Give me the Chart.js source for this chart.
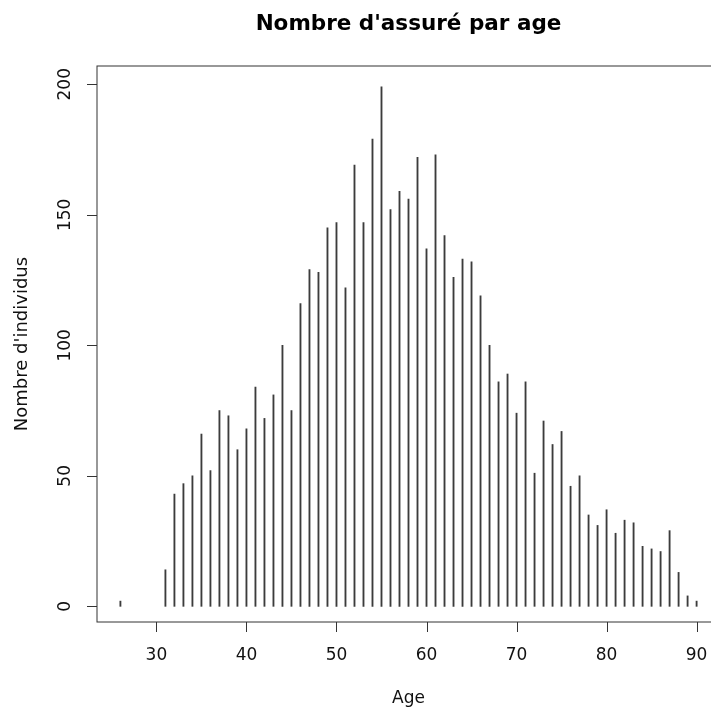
<!DOCTYPE html>
<html>
<head>
<meta charset="utf-8">
<script src="https://cdn.jsdelivr.net/npm/chart.js@4/dist/chart.umd.min.js"></script>
<style>
  html, body { margin: 0; padding: 0; background: #fff; overflow: hidden; }
  #wrap { width: 722px; height: 713px; }
</style>
</head>
<body>
<div id="wrap"><canvas id="ages-chart" width="722" height="713"></canvas></div>
<script>
// Nombre d'assurés par âge
const ages = [26,
  31, 32, 33, 34, 35, 36, 37, 38, 39, 40,
  41, 42, 43, 44, 45, 46, 47, 48, 49, 50,
  51, 52, 53, 54, 55, 56, 57, 58, 59, 60,
  61, 62, 63, 64, 65, 66, 67, 68, 69, 70,
  71, 72, 73, 74, 75, 76, 77, 78, 79, 80,
  81, 82, 83, 84, 85, 86, 87, 88, 89, 90];
const counts = [2,
  14, 43, 47, 50, 66, 52, 75, 73, 60, 68,
  84, 72, 81, 100, 75, 116, 129, 128, 145, 147,
  122, 169, 147, 179, 199, 152, 159, 156, 172, 137,
  173, 142, 126, 133, 132, 119, 100, 86, 89, 74,
  86, 51, 71, 62, 67, 46, 50, 35, 31, 37,
  28, 33, 32, 23, 22, 21, 29, 13, 4, 2];
const xTicks = [30, 40, 50, 60, 70, 80, 90];
const yTicks = [0, 50, 100, 150, 200];

const TITLE = "Nombre d'assuré par age";
const X_LABEL = 'Age';
const Y_LABEL = "Nombre d'individus";
const FONT = 'DejaVu Sans';

// R-style box, ticks and labels drawn from the chart's own scales
const rAxes = {
  id: 'rAxes',
  afterDraw(chart) {
    const { ctx, chartArea: a, scales } = chart;
    const x = scales.x, y = scales.y;
    ctx.save();
    ctx.strokeStyle = '#333';
    ctx.lineWidth = 1;
    ctx.strokeRect(a.left, a.top, a.right - a.left, a.bottom - a.top);

    ctx.fillStyle = '#111';
    ctx.font = `17px ${FONT}`;
    ctx.textAlign = 'center';
    ctx.textBaseline = 'middle';
    ctx.beginPath();
    xTicks.forEach(v => {
      const px = Math.round(x.getPixelForValue(v)) + 0.5;
      ctx.moveTo(px, a.bottom);
      ctx.lineTo(px, a.bottom + 10);
    });
    yTicks.forEach(v => {
      const py = Math.round(y.getPixelForValue(v)) + 0.5;
      ctx.moveTo(a.left, py);
      ctx.lineTo(a.left - 10, py);
    });
    ctx.stroke();

    xTicks.forEach(v => ctx.fillText(String(v), x.getPixelForValue(v), a.bottom + 34));
    yTicks.forEach(v => {
      ctx.save();
      ctx.translate(a.left - 31, y.getPixelForValue(v));
      ctx.rotate(-Math.PI / 2);
      ctx.fillText(String(v), 0, 0);
      ctx.restore();
    });

    // axis titles
    const midX = (a.left + a.right) / 2;
    ctx.fillText(X_LABEL, midX, a.bottom + 77);
    ctx.save();
    ctx.translate(22, (a.top + a.bottom) / 2);
    ctx.rotate(-Math.PI / 2);
    ctx.font = `18px ${FONT}`;
    ctx.fillText(Y_LABEL, 0, 0);
    ctx.restore();

    ctx.font = `bold 21.5px ${FONT}`;
    ctx.fillStyle = '#000';
    ctx.fillText(TITLE, midX, 24);
    ctx.restore();
  }
};

new Chart(document.getElementById('ages-chart'), {
  type: 'bar',
  data: {
    datasets: [{
      data: ages.map((a, i) => ({ x: a, y: counts[i] })),
      backgroundColor: '#3c3c3c',
      barThickness: 1.2,
      borderWidth: 0
    }]
  },
  options: {
    responsive: false,
    animation: false,
    layout: { padding: { left: 97, top: 66, right: 2, bottom: 91 } },
    plugins: { legend: { display: false }, tooltip: { enabled: false } },
    scales: {
      x: { type: 'linear', min: 23.4, max: 92.6, offset: false, display: false },
      y: { min: -6, max: 207, display: false }
    }
  },
  plugins: [rAxes]
});
</script>
</body>
</html>
